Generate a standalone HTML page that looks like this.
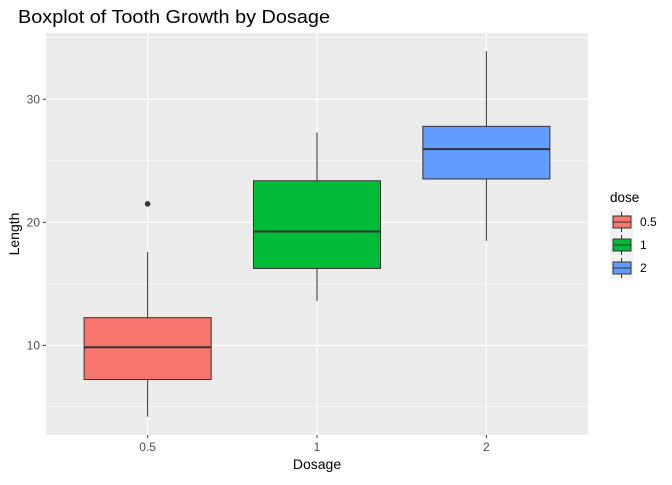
<!DOCTYPE html>
<html><head><meta charset="utf-8"><style>
body{margin:0;background:#fff;font-family:"Liberation Sans",Arial,sans-serif}
</style></head><body>
<svg id="chart" width="672" height="480" xmlns="http://www.w3.org/2000/svg" font-family="Liberation Sans, Arial, sans-serif">
<text x="18" y="23" font-size="18" textLength="312" lengthAdjust="spacingAndGlyphs" fill="#000">Boxplot of Tooth Growth by Dosage</text>
<rect x="46" y="33" width="542" height="402" fill="#EBEBEB"/>
<g id="grid"></g><g id="boxes"></g><g id="axes"></g>
<text x="317" y="469" font-size="14" text-anchor="middle">Dosage</text>
<text transform="translate(19,234) rotate(-90)" font-size="14" text-anchor="middle">Length</text>
<g id="legend"></g>
</svg>
<script>
const categories=["0.5","1","2"];
const colors=["#F8766D","#00BA38","#619CFF"];
const mins=[4.2,13.6,18.5];
const q1s=[7.225,16.25,23.525];
const medians=[9.85,19.25,25.95];
const q3s=[12.25,23.375,27.8];
const maxs=[17.6,27.3,33.9];
const outliers=[[21.5],[],[]];
const yTicks=[10,20,30];
const yMinor=[5,15,25,35];
const NS="http://www.w3.org/2000/svg";
const px0=46,px1=588,py0=435,py1=33,ylo=2.715,yhi=35.385;
const xs=i=>px0+(i+1-0.4)*(px1-px0)/3.2;
const ys=v=>py0-(v-ylo)*(py0-py1)/(yhi-ylo);
function mk(p,t,a){const e=document.createElementNS(NS,t);for(const k in a)e.setAttribute(k,a[k]);document.getElementById(p).appendChild(e);return e;}
yMinor.forEach(v=>{if(v>yhi)return;const e=mk("grid","line",{x1:px0,x2:px1,y1:ys(v),y2:ys(v),stroke:"#fff","stroke-width":0.6});

});
yTicks.forEach(v=>{const e=mk("grid","line",{x1:px0,x2:px1,y1:ys(v),y2:ys(v),stroke:"#fff","stroke-width":1.2});


const t=mk("axes","line",{x1:px0-3,x2:px0,y1:ys(v),y2:ys(v),stroke:"#333"});


const l=mk("axes","text",{x:px0-6,y:ys(v)+4,"font-size":12,fill:"#4D4D4D","text-anchor":"end"});l.textContent=v;

});
categories.forEach((c,i)=>{const x=xs(i);
const g=mk("grid","line",{x1:x,x2:x,y1:py1,y2:py0,stroke:"#fff","stroke-width":1.2});


const t=mk("axes","line",{x1:x,x2:x,y1:py0,y2:py0+3,stroke:"#333"});


const l=mk("axes","text",{x:x,y:py0+16,"font-size":12,fill:"#4D4D4D","text-anchor":"middle"});l.textContent=c;


const hw=0.375*(px1-px0)/3.2;
const w1=mk("boxes","line",{x1:x,x2:x,y1:ys(maxs[i]),y2:ys(q3s[i]),stroke:"#333"});


const w2=mk("boxes","line",{x1:x,x2:x,y1:ys(q1s[i]),y2:ys(mins[i]),stroke:"#333"});


const b=mk("boxes","rect",{x:x-hw,y:ys(q3s[i]),width:2*hw,height:ys(q1s[i])-ys(q3s[i]),fill:colors[i],stroke:"#333","stroke-width":1});


const m=mk("boxes","line",{x1:x-hw,x2:x+hw,y1:ys(medians[i]),y2:ys(medians[i]),stroke:"#333","stroke-width":2});


outliers[i].forEach(o=>{const p=mk("boxes","circle",{cx:x,cy:ys(o),r:2.8,fill:"#333"});

});
});
const tt=mk("legend","text",{x:610,y:202,"font-size":13.5});tt.textContent="dose";


const bg=mk("legend","rect",{x:610,y:210,width:23,height:69,fill:"#F2F2F2"});


categories.forEach((c,i)=>{const cy=222+i*23;
const vl=mk("legend","line",{x1:621.5,x2:621.5,y1:cy-10,y2:cy+10,stroke:"#333"});


const r=mk("legend","rect",{x:613,y:cy-6,width:18,height:12,fill:colors[i],stroke:"#333"});


const ml=mk("legend","line",{x1:613,x2:631,y1:cy,y2:cy,stroke:"#333"});


const l=mk("legend","text",{x:640,y:cy+4,"font-size":12});l.textContent=c;

});
</script>
</body></html>
